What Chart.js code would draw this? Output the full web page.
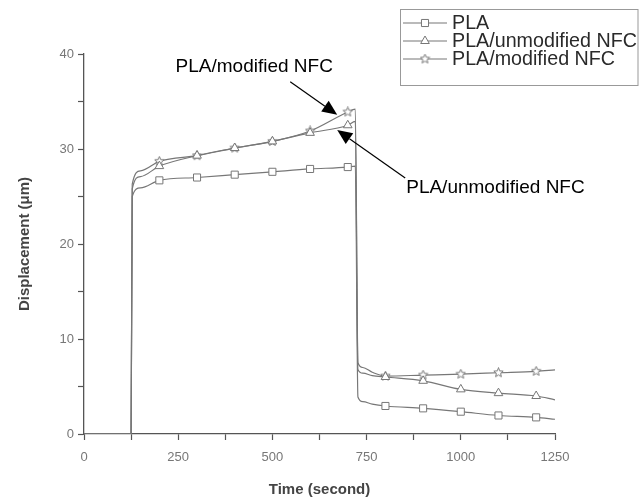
<!DOCTYPE html>
<html>
<head>
<meta charset="utf-8">
<script src="https://cdn.jsdelivr.net/npm/chart.js@4.4.1/dist/chart.umd.min.js"></script>
<style>
  html, body { margin: 0; padding: 0; background: #fff; }
</style>
</head>
<body>
<canvas id="creepChart" width="639" height="500"></canvas>
<script>
// time in seconds, displacement in micrometres
const timeSec     = [0, 125, 128, 150, 200, 300, 400, 500, 600, 700, 720, 727, 740, 765, 800, 900, 1000, 1100, 1200, 1250];
const plaValues   = [0, 0, 25.0, 25.9, 26.7, 27.0, 27.3, 27.6, 27.9, 28.1, 28.2, 3.9, 3.4, 3.15, 2.95, 2.7, 2.35, 1.95, 1.75, 1.55];
const unmodValues = [0, 0, 25.8, 27.1, 28.2, 29.3, 30.1, 30.8, 31.7, 32.5, 32.9, 6.8, 6.4, 6.15, 6.0, 5.6, 4.7, 4.3, 4.0, 3.6];
const modValues   = [0, 0, 26.3, 27.7, 28.7, 29.3, 30.1, 30.8, 31.9, 33.9, 34.2, 7.5, 7.0, 6.5, 6.1, 6.2, 6.3, 6.45, 6.6, 6.75];

// symbols are only drawn at these times
const markerTimes = [200, 300, 400, 500, 600, 700, 800, 900, 1000, 1100, 1200];

const seriesNames = ['PLA', 'PLA/unmodified NFC', 'PLA/modified NFC'];

const LINE = '#777';

// small outlined star, used as point style for the modified NFC series
function makeStar(size) {
  const c = document.createElement('canvas');
  c.width = c.height = size;
  const g = c.getContext('2d');
  const cx = size / 2, cy = size / 2, R = size / 2 - 0.6, r = R * 0.45;
  g.beginPath();
  for (let i = 0; i < 10; i++) {
    const a = -Math.PI / 2 + i * Math.PI / 5;
    const rad = i % 2 ? r : R;
    g.lineTo(cx + rad * Math.cos(a), cy + rad * Math.sin(a));
  }
  g.closePath();
  g.fillStyle = '#fff';
  g.fill();
  g.strokeStyle = LINE;
  g.lineWidth = 1;
  g.stroke();
  return c;
}
const starImg = makeStar(11);

const styles = ['rect', 'triangle', starImg];
const series = [plaValues, unmodValues, modValues];

function toPoints(values) {
  return timeSec.map((t, i) => ({ x: t, y: values[i] }));
}

const datasets = series.map((vals, i) => ({
  label: seriesNames[i],
  data: toPoints(vals),
  borderColor: LINE,
  backgroundColor: '#fff',
  borderWidth: 1.2,
  cubicInterpolationMode: 'monotone',
  pointStyle: styles[i],
  pointBorderColor: LINE,
  pointBackgroundColor: '#fff',
  pointBorderWidth: 1,
  pointRadius: (ctx) => (ctx.raw && markerTimes.includes(ctx.raw.x)) ? 5 : 0
}));

// arrows + labels, anchored on data coordinates
const notes = [
  { text: 'PLA/modified NFC', tip: { x: 672, y: 33.6 }, tail: [-47, -33], label: [-83, -48], align: 'center' },
  { text: 'PLA/unmodified NFC', tip: { x: 672, y: 32.0 }, tail: [68, 48], label: [69, 58], align: 'left' }
];

const annotate = {
  id: 'annotate',
  afterDraw(chart) {
    const { ctx, scales: { x, y } } = chart;
    ctx.save();
    // arrows and notes
    notes.forEach((n) => {
      const tx = x.getPixelForValue(n.tip.x);
      const ty = y.getPixelForValue(n.tip.y);
      const sx = tx + n.tail[0], sy = ty + n.tail[1];
      const ang = Math.atan2(ty - sy, tx - sx);
      const headLen = 15, headW = 6.5;
      const bx = tx - headLen * Math.cos(ang), by = ty - headLen * Math.sin(ang);
      ctx.strokeStyle = '#000';
      ctx.lineWidth = 1.2;
      ctx.beginPath();
      ctx.moveTo(sx, sy);
      ctx.lineTo(bx, by);
      ctx.stroke();
      ctx.fillStyle = '#000';
      ctx.beginPath();
      ctx.moveTo(tx, ty);
      ctx.lineTo(bx + headW * Math.sin(ang), by - headW * Math.cos(ang));
      ctx.lineTo(bx - headW * Math.sin(ang), by + headW * Math.cos(ang));
      ctx.closePath();
      ctx.fill();

      ctx.font = '19px "Liberation Sans", Arial, sans-serif';
      ctx.textAlign = n.align;
      ctx.textBaseline = 'middle';
      ctx.fillText(n.text, tx + n.label[0], ty + n.label[1]);
    });

    // legend box, top right
    const box = { l: 400.5, t: 9.5, r: 638, b: 85.5 };
    ctx.fillStyle = '#fff';
    ctx.fillRect(box.l, box.t, box.r - box.l, box.b - box.t);
    ctx.strokeStyle = '#999';
    ctx.lineWidth = 1;
    ctx.strokeRect(box.l, box.t, box.r - box.l, box.b - box.t);
    const rows = [23, 41, 59];
    rows.forEach((ry, i) => {
      ctx.strokeStyle = LINE;
      ctx.lineWidth = 1.2;
      ctx.beginPath();
      ctx.moveTo(403, ry);
      ctx.lineTo(447, ry);
      ctx.stroke();
      ctx.fillStyle = '#fff';
      ctx.lineWidth = 1;
      Chart.helpers.drawPoint(ctx, { pointStyle: styles[i], radius: 5, rotation: 0, borderWidth: 1 }, 425, ry);
      ctx.fillStyle = '#2a2a2a';
      ctx.font = '19.7px "Liberation Sans", Arial, sans-serif';
      ctx.textAlign = 'left';
      ctx.textBaseline = 'middle';
      ctx.fillText(seriesNames[i], 452, ry + 1);
    });
    ctx.restore();
  }
};

new Chart(document.getElementById('creepChart'), {
  type: 'line',
  data: { datasets },
  options: {
    responsive: false,
    devicePixelRatio: 1,
    animation: false,
    events: [],
    layout: { padding: { left: 0, right: 84, top: 54, bottom: 0 } },
    plugins: { legend: { display: false }, tooltip: { enabled: false } },
    scales: {
      x: {
        type: 'linear',
        min: 0,
        max: 1250,
        afterFit: (s) => { s.height = 66; },
        border: { display: true, color: '#555', width: 1.3 },
        grid: { drawOnChartArea: false, drawTicks: true, tickLength: 6, tickColor: '#555', tickWidth: 1.2 },
        ticks: {
          stepSize: 125,
          autoSkip: false,
          maxRotation: 0,
          padding: 10,
          color: '#777',
          font: { family: '"Liberation Sans", Arial, sans-serif', size: 13 },
          callback: (v) => (v % 250 === 0 ? v : '')
        },
        title: {
          display: true,
          text: 'Time (second)',
          color: '#444',
          padding: 1,
          font: { family: '"Liberation Sans", Arial, sans-serif', size: 15, weight: 'bold' }
        }
      },
      y: {
        min: 0,
        max: 40,
        afterFit: (s) => { s.width = 84; },
        border: { display: true, color: '#555', width: 1.3 },
        grid: { drawOnChartArea: false, drawTicks: true, tickLength: 6, tickColor: '#555', tickWidth: 1.2 },
        ticks: {
          stepSize: 5,
          autoSkip: false,
          padding: 4,
          color: '#777',
          font: { family: '"Liberation Sans", Arial, sans-serif', size: 13 },
          callback: (v) => (v % 10 === 0 ? v : '')
        },
        title: {
          display: true,
          text: 'Displacement (μm)',
          color: '#444',
          padding: 16,
          font: { family: '"Liberation Sans", Arial, sans-serif', size: 15, weight: 'bold' }
        }
      }
    }
  },
  plugins: [annotate]
});
</script>
</body>
</html>
